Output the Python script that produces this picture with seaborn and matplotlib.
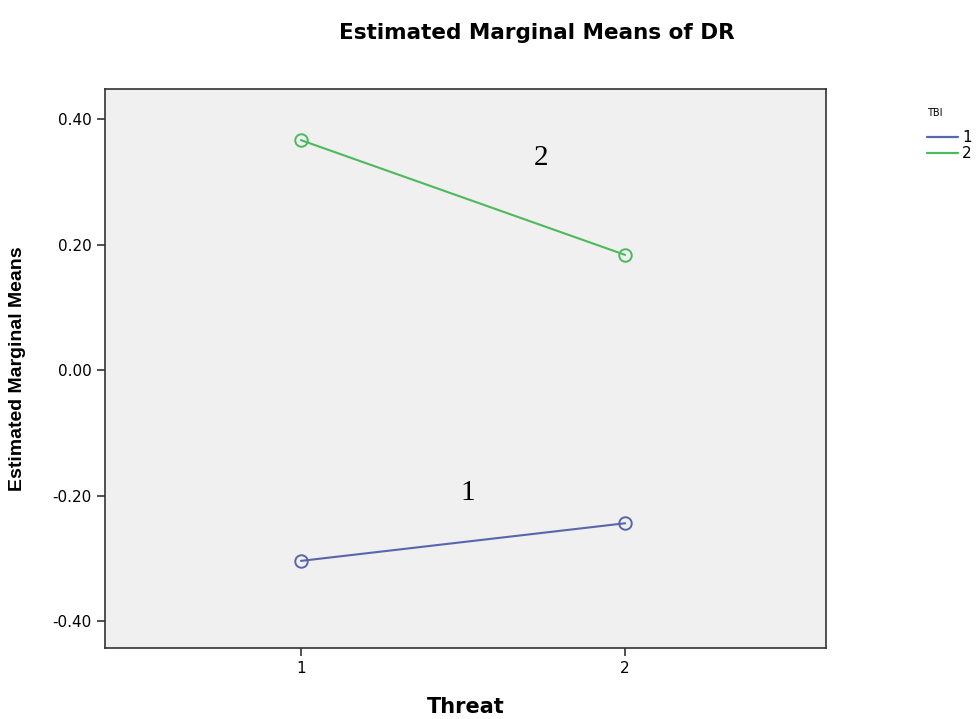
import matplotlib
matplotlib.use("Agg")
import matplotlib.pyplot as plt
import seaborn as sns
import pandas as pd
from matplotlib.lines import Line2D

threat = [1, 2]
tbi1 = [-0.304, -0.244]
tbi2 = [0.367, 0.184]
tbi_levels = ["1", "2"]
yticks = [-0.40, -0.20, 0.00, 0.20, 0.40]

df = pd.DataFrame({
    "Threat": threat * 2,
    "Mean": tbi1 + tbi2,
    "TBI": [tbi_levels[0]] * 2 + [tbi_levels[1]] * 2,
})

sns.set_style("white")
plt.rcParams["font.family"] = ["DejaVu Sans"]
plt.rcParams["text.color"] = "black"
plt.rcParams["axes.labelcolor"] = "black"

colors = {"1": "#5866ad", "2": "#4cba5c"}

fig = plt.figure(figsize=(9.8, 7.19), dpi=100)
ax = fig.add_axes([0.107, 0.0987, 0.736, 0.777])
ax.set_facecolor("#f0f0f0")

sns.lineplot(data=df, x="Threat", y="Mean", hue="TBI", palette=colors,
             marker="o", markersize=9, markerfacecolor="none",
             markeredgewidth=1.4, linewidth=1.5, ax=ax, legend=False)
for ln in ax.lines:
    ln.set_markeredgecolor(ln.get_color())

ax.set_xlim(0.395, 2.62)
ax.set_ylim(-0.443, 0.448)
ax.set_xticks(threat)
ax.set_xticklabels(["1", "2"])
ax.set_yticks(yticks)
ax.set_yticklabels([f"{v:.2f}" for v in yticks])
ax.tick_params(axis="both", direction="out", length=6, width=1.2, labelsize=11,
               left=True, bottom=True, colors="#333333", labelcolor="black")
for s in ax.spines.values():
    s.set_color("#333333")
    s.set_linewidth(1.2)

ax.set_xlabel("Threat", fontsize=15, fontweight="bold")
ax.xaxis.set_label_coords(0.5, -0.088)
ax.set_ylabel("Estimated Marginal Means", fontsize=14, fontweight="bold",
              family="Liberation Sans")
ax.yaxis.set_label_coords(-0.11, 0.5)
fig.suptitle("Estimated Marginal Means of DR", fontsize=15.5, fontweight="bold",
             x=0.548, y=0.968)

ax.text(1.74, 0.339, "2", fontsize=21, family="Liberation Serif", ha="center", va="center")
ax.text(1.515, -0.196, "1", fontsize=21, family="Liberation Serif", ha="center", va="center")

handles = [Line2D([], [], color=colors[k], linewidth=1.6) for k in tbi_levels]
leg = fig.legend(handles, tbi_levels, title="TBI\n", loc="upper left",
                 bbox_to_anchor=(0.946, 0.85), frameon=False, fontsize=11,
                 handlelength=2.0, handletextpad=0.3, labelspacing=0.05,
                 borderpad=0, borderaxespad=0, alignment="left")
leg.get_title().set_fontsize(7)

fig.savefig("out.png", dpi=100)
